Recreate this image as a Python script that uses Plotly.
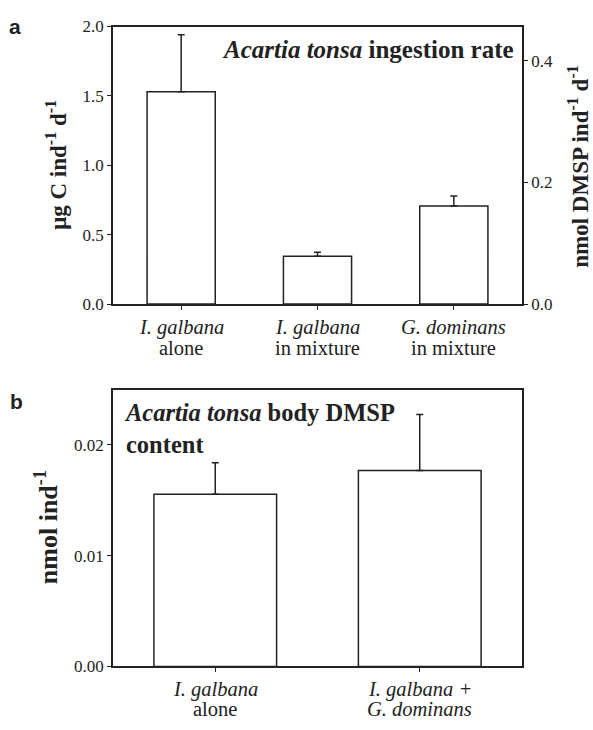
import plotly.graph_objects as go

# Panel a data
cats_a_line1 = ["<i>I. galbana</i>", "<i>I. galbana</i>", "<i>G. dominans</i>"]
cats_a_line2 = ["alone", "in mixture", "in mixture"]
ingest_a = [1.53, 0.345, 0.707]
err_a = [0.41, 0.028, 0.072]
y_ticks_a = [0.0, 0.5, 1.0, 1.5, 2.0]
y2_ticks_a = [0.0, 0.2, 0.4]

# Panel b data
cats_b_line1 = ["<i>I. galbana</i>", "<i>I. galbana +</i>"]
cats_b_line2 = ["alone", "<i>G. dominans</i>"]
dmsp_b = [0.01555, 0.01769]
err_b = [0.00285, 0.00506]
y_ticks_b = [0.0, 0.01, 0.02]

SERIF = "Liberation Serif, Times New Roman, serif"
SANS = "Liberation Sans, Arial, sans-serif"
INK = "#222"
W, H = 593, 730

def py(y):
    return 1 - y / H

fig = go.Figure()
fig.add_trace(go.Bar(
    x=list(range(len(ingest_a))), y=ingest_a, width=0.5,
    marker=dict(color="white", line=dict(color=INK, width=1.5)),
    error_y=dict(type="data", array=err_a, arrayminus=[0]*len(err_a),
                 color=INK, thickness=1.5, width=3.5),
    xaxis="x", yaxis="y", showlegend=False))
fig.add_trace(go.Scatter(x=[0], y=[0], mode="markers", marker=dict(opacity=0),
                         xaxis="x", yaxis="y2", showlegend=False, hoverinfo="skip"))
fig.add_trace(go.Bar(
    x=list(range(len(dmsp_b))), y=dmsp_b, width=0.6,
    marker=dict(color="white", line=dict(color=INK, width=1.5)),
    error_y=dict(type="data", array=err_b, arrayminus=[0]*len(err_b),
                 color=INK, thickness=1.5, width=3.5),
    xaxis="x2", yaxis="y3", showlegend=False))

xd = [113/W, 522/W]
ya = [py(303), py(18)]
yb = [py(675), py(390.7)]
axcommon = dict(showgrid=False, zeroline=False, linecolor=INK, linewidth=1.5,
                ticks="outside", ticklen=4, tickcolor=INK, tickwidth=1,
                tickfont=dict(family=SERIF, size=17, color=INK))

fig.update_layout(
    width=W, height=H, margin=dict(l=0, r=0, t=0, b=0),
    paper_bgcolor="white", plot_bgcolor="white",
    xaxis=dict(domain=xd, anchor="y", range=[-0.5, 2.5], tickvals=list(range(3)),
               showticklabels=False, mirror=True, **axcommon),
    yaxis=dict(domain=ya, anchor="x", range=[0, 2.0], tickvals=y_ticks_a,
               tickformat=".1f", **axcommon),
    yaxis2=dict(overlaying="y", side="right", anchor="x", range=[0, 0.456],
                tickvals=y2_ticks_a, tickformat=".1f", **axcommon),
    xaxis2=dict(domain=xd, anchor="y3", range=[-0.5, 1.5], tickvals=list(range(2)),
                showticklabels=False, mirror=True, **axcommon),
    yaxis3=dict(domain=yb, anchor="x2", range=[0, 0.025], tickvals=y_ticks_b,
                tickformat=".2f", mirror=True, **axcommon),
)

ann = []
def pa(text, x, y, size, family=SERIF, angle=0, xanchor="center", yanchor="middle", align="center"):
    ann.append(dict(text=text, x=x/W, y=py(y), xref="paper", yref="paper", showarrow=False,
                    textangle=angle, xanchor=xanchor, yanchor=yanchor, align=align,
                    font=dict(family=family, size=size, color=INK)))

pa("<b><i>Acartia tonsa</i> ingestion rate</b>", 516, 42, 25, xanchor="right")
pa("<b>μg C ind<sup>-1</sup> d<sup>-1</sup></b>", 57, 160, 23, angle=-90)
pa("<b>nmol DMSP ind<sup>-1</sup> d<sup>-1</sup></b>", 579, 162, 23, angle=-90)
pa("<b>nmol ind<sup>-1</sup></b>", 46, 532, 26, angle=-90)
pa("<b><i>Acartia tonsa</i> body DMSP</b><br><b>content</b>", 122, 431, 24.5,
   xanchor="left", align="left")
pa("<b>a</b>", 15, 18, 21, family=SANS)
pa("<b>b</b>", 16, 403, 21, family=SANS)

for i, (l1, l2) in enumerate(zip(cats_a_line1, cats_a_line2)):
    for txt, yy in ((l1, 327), (l2, 348)):
        ann.append(dict(text=txt, x=i, xref="x", y=py(yy), yref="paper", showarrow=False,
                        xanchor="center", yanchor="middle",
                        font=dict(family=SERIF, size=20.5, color=INK)))
for i, (l1, l2) in enumerate(zip(cats_b_line1, cats_b_line2)):
    for txt, yy in ((l1, 699), (l2, 719)):
        ann.append(dict(text=txt, x=i, xref="x2", y=py(yy), yref="paper", showarrow=False,
                        xanchor="center", yanchor="middle",
                        font=dict(family=SERIF, size=20.5, color=INK)))
fig.update_layout(annotations=ann)

fig.write_html("out.html", config={"displayModeBar": False},
               post_script="document.body.style.margin='0';")
